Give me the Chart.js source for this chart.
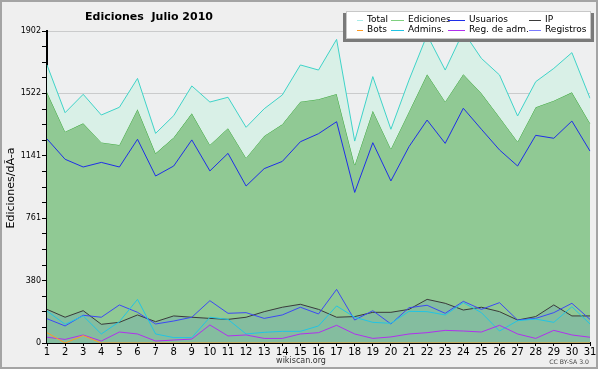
<!DOCTYPE html>
<html>
<head>
<meta charset="utf-8">
<script src="https://cdn.jsdelivr.net/npm/chart.js@4"></script>
<style>
html,body{margin:0;padding:0;background:#ffffff;}
canvas{display:block;}
</style>
</head>
<body>
<canvas id="c" width="600" height="370"></canvas>
<script>
const days = ["1","2","3","4","5","6","7","8","9","10","11","12","13","14","15","16","17","18","19","20","21","22","23","24","25","26","27","28","29","30","31"];
const total = [1695,1404,1516,1390,1437,1613,1278,1386,1567,1469,1498,1315,1428,1512,1695,1664,1851,1231,1624,1303,1603,1878,1664,1898,1735,1634,1384,1593,1674,1770,1492];
const ediciones = [1528,1288,1339,1223,1207,1425,1156,1252,1400,1207,1309,1128,1262,1333,1471,1486,1518,1085,1416,1183,1410,1638,1471,1638,1522,1376,1227,1437,1477,1528,1339];
const usuarios = [1244,1120,1073,1101,1073,1242,1018,1079,1238,1049,1156,957,1063,1107,1227,1276,1349,918,1221,988,1197,1359,1217,1431,1303,1177,1079,1266,1248,1353,1170];
const ip = [205,157,197,114,126,171,130,165,157,150,144,157,191,218,236,205,157,161,187,187,205,266,242,201,218,191,140,161,232,165,165];
const bots = [63,0,45,0,0,0,0,0,0,0,0,0,0,0,0,0,0,0,0,0,0,0,0,0,0,0,0,0,0,0,0];
const admins = [195,114,165,55,130,266,55,33,33,157,144,55,65,71,71,104,226,157,126,120,193,191,171,246,185,73,136,146,126,221,116];
const regAdm = [35,22,49,12,67,55,12,18,24,110,43,49,28,28,55,63,108,55,28,37,55,63,77,73,67,108,55,28,77,49,35];
const registros = [148,104,169,157,232,187,116,134,157,258,181,185,150,171,218,177,327,140,197,116,215,230,181,254,205,246,140,150,185,242,144];
const yMax = 1902;
const yTickLabels = ["0","380","761","1141","1522","1902"];
const seriesNames = ["Total","Ediciones","Usuarios","IP","Bots","Admins.","Reg. de adm.","Registros"];
const titleText = "Ediciones  Julio 2010";
const yTitle = "Ediciones/dÃ-a";

const FONT = "'DejaVu Sans', Verdana, sans-serif";

const bgPlugin = {
  id: 'bg',
  beforeDraw(chart) {
    const ctx = chart.ctx;
    ctx.save();
    ctx.fillStyle = '#ffffff';
    ctx.fillRect(0, 0, chart.width, chart.height);
    ctx.fillStyle = '#efefef';
    ctx.fillRect(0, 0, 598, 369);
    ctx.strokeStyle = '#a4a4a4';
    ctx.lineWidth = 2;
    ctx.strokeRect(1, 1, 596, 367);
    const a = chart.chartArea;
    ctx.fillStyle = '#eeeff0';
    ctx.fillRect(a.left, a.top, a.right - a.left, a.bottom - a.top);
    ctx.restore();
  },
  afterDraw(chart) {
    const ctx = chart.ctx;
    ctx.save();
    // title
    ctx.fillStyle = '#000';
    ctx.font = 'bold 11px ' + FONT;
    ctx.textAlign = 'center';
    ctx.textBaseline = 'middle';
    ctx.fillText(titleText, 149, 17);
    // y title
    ctx.save();
    ctx.translate(11, 188);
    ctx.rotate(-Math.PI / 2);
    ctx.font = '11px ' + FONT;
    ctx.fillText(yTitle, 0, 0);
    ctx.restore();
    // footer
    ctx.font = '8px ' + FONT;
    ctx.fillStyle = '#333';
    ctx.fillText('wikiscan.org', 301, 361);
    ctx.font = '6.2px ' + FONT;
    ctx.textAlign = 'right';
    ctx.fillStyle = '#444';
    ctx.fillText('CC BY-SA 3.0', 589, 362);
    // legend
    ctx.fillStyle = '#7a7a7a';
    ctx.fillRect(343, 13, 251, 29);
    ctx.fillStyle = '#ffffff';
    ctx.fillRect(346, 11, 245, 28);
    ctx.strokeStyle = '#c8c8c8';
    ctx.lineWidth = 1;
    ctx.strokeRect(346.5, 11.5, 244, 27);
    const colLine = [357, 391, 448, 529];
    const colText = [367, 408, 469, 545];
    const rowY = [19.5, 29.5];
    ctx.font = '9px ' + FONT;
    ctx.textAlign = 'left';
    chart.data.datasets.forEach((ds, i) => {
      const r = Math.floor(i / 4), c = i % 4;
      ctx.strokeStyle = ds.legendColor || ds.borderColor;
      ctx.beginPath();
      ctx.moveTo(colLine[c], Math.round(rowY[r]) + 0.5);
      ctx.lineTo(colText[c] - 4, Math.round(rowY[r]) + 0.5);
      ctx.stroke();
      ctx.fillStyle = '#000';
      ctx.fillText(ds.label, colText[c], rowY[r]);
    });
    ctx.restore();
  }
};

function ds(label, data, color, order, fill, bg, legendColor) {
  return {
    label, data, borderColor: color, borderWidth: 1, order,
    fill: fill === undefined ? false : fill,
    backgroundColor: bg || color, legendColor,
    pointRadius: 0, tension: 0
  };
}

new Chart(document.getElementById('c'), {
  type: 'line',
  data: {
    labels: days,
    datasets: [
      ds(seriesNames[0], total, '#3fd3c8', 9, 1, '#d9f0e7', '#a8ece8'),
      ds(seriesNames[1], ediciones, '#3aa83a', 10, 'origin', '#90c994', '#7fd07f'),
      ds(seriesNames[2], usuarios, '#1f2ee8', 4),
      ds(seriesNames[3], ip, '#3a3a3a', 3, 'origin', 'rgba(84,146,204,0.2)'),
      ds(seriesNames[4], bots, '#ff9a22', 0),
      ds(seriesNames[5], admins, '#22c4e4', 2),
      ds(seriesNames[6], regAdm, '#b030ee', 1),
      ds(seriesNames[7], registros, '#3d48f4', 2, false, undefined, '#7b7bff')
    ]
  },
  options: {
    responsive: false,
    animation: false,
    devicePixelRatio: 1,
    layout: { padding: { top: 31, right: 10, left: 0, bottom: 0 } },
    plugins: { legend: { display: false }, title: { display: false }, tooltip: { enabled: false } },
    scales: {
      x: {
        offset: false,
        z: 1,
        grid: { display: true, drawOnChartArea: false, drawTicks: true, tickLength: 3, color: '#000' },
        border: { color: '#000', width: 2 },
        ticks: { color: '#000', font: { family: FONT, size: 10 }, padding: 0, maxRotation: 0, autoSkip: false },
        afterFit(s) { s.height = 27; }
      },
      y: {
        min: 0, max: yMax,
        z: 1,
        afterBuildTicks(s) {
          const t = [];
          for (let i = 0; i <= 20; i++) t.push({ value: i * yMax / 20 });
          s.ticks = t;
        },
        ticks: {
          autoSkip: false,
          color: '#000',
          font: { family: FONT, size: 8 },
          padding: 1,
          callback(v, i) { return i % 4 === 0 ? yTickLabels[i / 4] : ''; }
        },
        grid: {
          color: (c) => (c.index % 4 === 0 && c.index > 0) ? 'rgba(0,0,0,0.15)' : 'rgba(0,0,0,0)',
          tickColor: '#000',
          tickLength: 5,
          lineWidth: 1
        },
        border: { color: '#000', width: 2 },
        afterFit(s) { s.width = 47; }
      }
    }
  },
  plugins: [bgPlugin]
});
</script>
</body>
</html>
